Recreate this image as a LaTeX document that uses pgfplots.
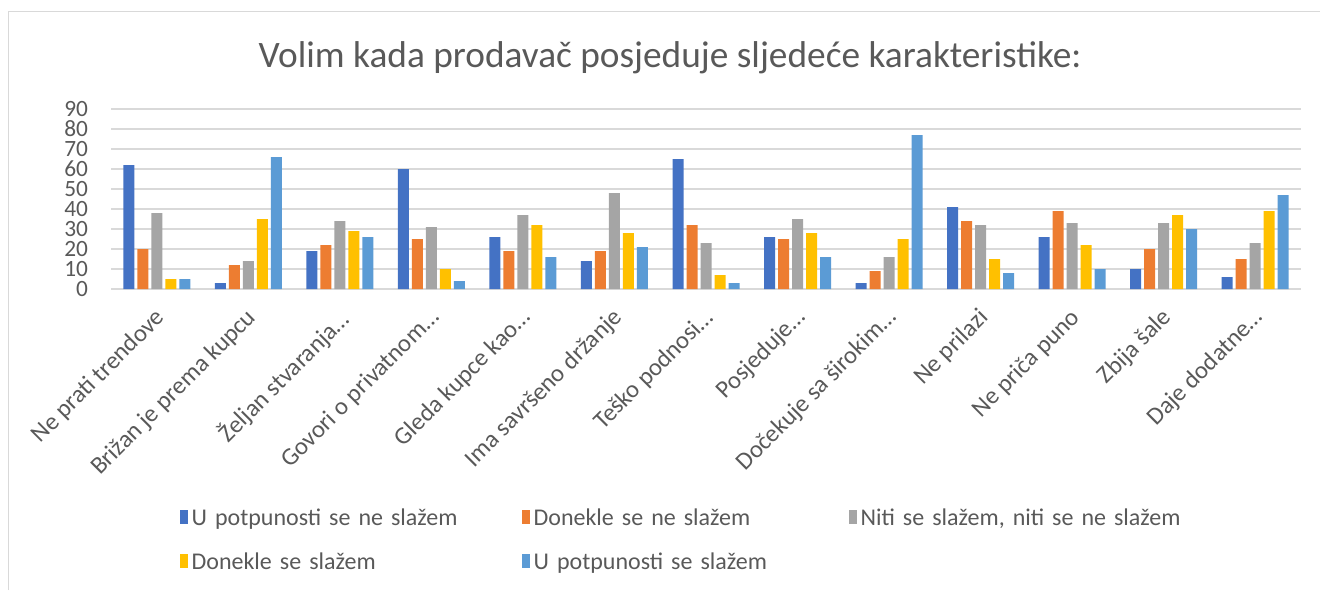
\documentclass[border=0pt]{standalone}
\usepackage{fontspec}
\setmainfont{Carlito}
\usepackage{pgfplots}
\pgfplotsset{compat=1.18}
\definecolor{cA}{HTML}{4472C4}
\definecolor{cB}{HTML}{ED7D31}
\definecolor{cC}{HTML}{A5A5A5}
\definecolor{cD}{HTML}{FFC000}
\definecolor{cE}{HTML}{5B9BD5}
\definecolor{txt}{HTML}{595959}
\definecolor{gridc}{HTML}{D9D9D9}
\begin{document}
\begin{tikzpicture}
\path[use as bounding box] (0pt,0pt) rectangle (990pt,442.5pt);
\draw[gridc, line width=1.1pt] (6.4pt,0pt) -- (6.4pt,434pt) -- (990pt,434pt);
\node[txt, font=\fontsize{28}{32}\selectfont] at (502.5pt,399pt) {Volim kada prodavač posjeduje sljedeće karakteristike:};
\begin{axis}[
  at={(83.25pt,225.75pt)}, anchor=south west, scale only axis,
  width=892.5pt, height=135pt,
  ybar=2.25pt, bar width=8.25pt,
  xmin=0.5, xmax=13.5, ymin=0, ymax=90,
  ytick={0,10,...,90},
  xtick={1,...,13},
  xticklabels={Ne prati trendove, Brižan je prema kupcu, Željan stvaranja…, Govori o privatnom…, Gleda kupce kao…, Ima savršeno držanje, Teško podnosi…, Posjeduje…, Dočekuje sa širokim…, Ne prilazi, Ne priča puno, Zbija šale, Daje dodatne…},
  ymajorgrids, grid style={gridc, line width=1.1pt},
  axis line style={draw=none},
  major tick length=0pt,
  tick style={draw=none},
  ticklabel style={text=txt},
  /pgf/number format/assume math mode=true,
  yticklabel style={anchor=east, inner sep=0pt, xshift=-17pt, font=\fontsize{17.5}{20}\selectfont},
  xticklabel style={rotate=45, anchor=north east, inner sep=0pt, yshift=-7.5pt, xshift=-11pt, font=\fontsize{18.5}{21}\selectfont},
  legend columns=3,
  legend cell align=left,
  legend image code/.code={\fill[#1] (0pt,-3pt) rectangle (6pt,7.5pt);},
  legend style={at={(0.058,-1.225)}, anchor=north west, draw=none, fill=none, inner sep=0pt,
    font=\fontsize{18}{21}\selectfont, text=txt, row sep=17pt, column sep=0pt,
    nodes={inner ysep=0pt, inner xsep=2.5pt, text height=12pt, text depth=4pt, align=left}},
]
\addplot[fill=cA, draw=none] coordinates {(1,62) (2,3) (3,19) (4,60) (5,26) (6,14) (7,65) (8,26) (9,3) (10,41) (11,26) (12,10) (13,6)};
\addplot[fill=cB, draw=none] coordinates {(1,20) (2,12) (3,22) (4,25) (5,19) (6,19) (7,32) (8,25) (9,9) (10,34) (11,39) (12,20) (13,15)};
\addplot[fill=cC, draw=none] coordinates {(1,38) (2,14) (3,34) (4,31) (5,37) (6,48) (7,23) (8,35) (9,16) (10,32) (11,33) (12,33) (13,23)};
\addplot[fill=cD, draw=none] coordinates {(1,5) (2,35) (3,29) (4,10) (5,32) (6,28) (7,7) (8,28) (9,25) (10,15) (11,22) (12,37) (13,39)};
\addplot[fill=cE, draw=none] coordinates {(1,5) (2,66) (3,26) (4,4) (5,16) (6,21) (7,3) (8,16) (9,77) (10,8) (11,10) (12,30) (13,47)};
\addlegendentry[text width=245.5pt]{U potpunosti se ne slažem}
\addlegendentry[text width=234.25pt]{Donekle se ne slažem}
\addlegendentry[text width=240pt]{Niti se slažem, niti se ne slažem}
\addlegendentry[text width=245.5pt]{Donekle se slažem}
\addlegendentry[text width=234.25pt]{U potpunosti se slažem}
\end{axis}
\end{tikzpicture}
\end{document}
